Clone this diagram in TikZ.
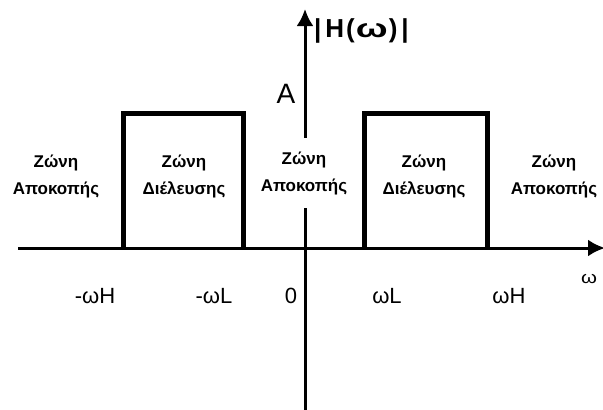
\documentclass[tikz,border=0pt]{standalone}
\usepackage{fontspec}
\setmainfont{Liberation Sans}
\usetikzlibrary{arrows.meta}
\begin{document}
\begin{tikzpicture}[x=1pt,y=-1pt,
  axis/.style={line width=3pt,-{Latex[length=17pt,width=17pt]}},
  band/.style={line width=5pt,line join=miter},
  zone/.style={font=\fontsize{17}{27}\selectfont\bfseries,align=center,inner sep=0pt},
  tick/.style={font=\fontsize{22}{24}\selectfont,inner sep=0pt},
]
\useasboundingbox (0,0) rectangle (603,410);
% axis end points
\coordinate (xs) at (18,248);
\coordinate (xe) at (605,248);
\coordinate (ys) at (305,410);
\coordinate (ye) at (305,9);
% axes
\draw[axis] (xs) -- (xe);
\draw[axis] (ys) -- (ye);
% pass bands
\coordinate (l1) at (123,248); \coordinate (l2) at (243,248);
\coordinate (r1) at (364,248); \coordinate (r2) at (487,248);
\draw[band] (l1) -- (123,113) -- (243,113) -- (l2);
\draw[band] (r1) -- (364,113) -- (487,113) -- (r2);
% zone labels
\node[zone] (z1) at (56,176) {Ζώνη\\Αποκοπής};
\node[zone] (z2) at (184,176) {Ζώνη\\Διέλευσης};
\node[zone,fill=white,minimum height=70pt,minimum width=98pt] (z3) at (304,173) {Ζώνη\\Αποκοπής};
\node[zone] (z4) at (424,176) {Ζώνη\\Διέλευσης};
\node[zone] (z5) at (554,176) {Ζώνη\\Αποκοπής};
% axis labels
\node[font=\fontsize{26}{28}\selectfont\bfseries,anchor=west,inner sep=0pt] (hw) at (314,31)
  {|\hspace{4pt}H\hspace{2pt}(\hspace{1pt}\scalebox{1.45}[1]{ω}\hspace{1pt})\hspace{4pt}|};
\node[font=\fontsize{28}{30}\selectfont,inner sep=0pt] (amp) at (286,94) {A};
\node[font=\fontsize{17}{18}\selectfont,inner sep=0pt] (w) at (589,279) {\scalebox{1.2}[1]{ω}};
% frequency ticks
\node[tick] (t1) at (95,296) {-ωH};
\node[tick] (t2) at (214,296) {-ωL};
\node[tick] (t3) at (291,296) {0};
\node[tick] (t4) at (387,296) {ωL};
\node[tick] (t5) at (509,296) {ωH};
\end{tikzpicture}
\end{document}
